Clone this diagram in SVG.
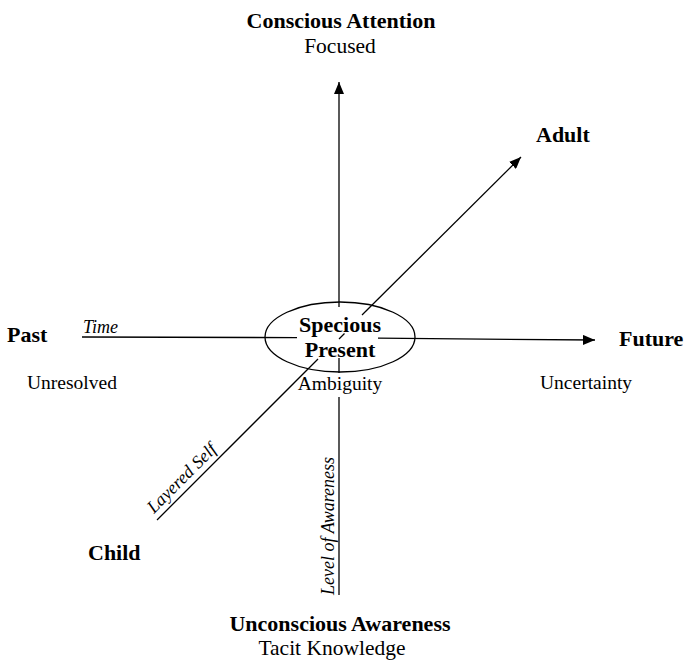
<svg xmlns="http://www.w3.org/2000/svg" width="687" height="660" viewBox="0 0 687 660">
<defs>
<marker id="arr" viewBox="0 0 12 10" refX="12" refY="5" markerWidth="12" markerHeight="10" markerUnits="userSpaceOnUse" orient="auto">
<path d="M0,0 L12,5 L0,10 Z" fill="#000"/>
</marker>
<style>
text{font-family:"Liberation Serif","Times New Roman",serif;fill:#000}
.b{font-weight:bold;font-size:22px}
.r{font-size:21.5px}
.s{font-size:19.5px}
.i{font-style:italic;font-size:18px}
.ln{stroke:#000;stroke-width:1.3;fill:none}
</style>
</defs>
<rect width="687" height="660" fill="#fff"/>
<g id="connectors">
<line class="ln" x1="339" y1="307" x2="339" y2="82" marker-end="url(#arr)"/>
<line class="ln" x1="339" y1="358" x2="339" y2="373"/>
<line class="ln" x1="339" y1="397" x2="339" y2="595"/>
<line class="ln" x1="82" y1="337" x2="297" y2="337.6"/>
<line class="ln" x1="378" y1="338.2" x2="595" y2="340" marker-end="url(#arr)"/>
<line class="ln" x1="362" y1="315" x2="521" y2="157" marker-end="url(#arr)"/>
<line class="ln" x1="157" y1="520" x2="318" y2="359"/>
<line class="ln" x1="344.5" y1="333.5" x2="339" y2="339"/>
</g>
<g id="center">
<ellipse class="ln" cx="340" cy="337" rx="75" ry="35"/>
<text class="b" x="340" y="332" text-anchor="middle">Specious</text>
<text class="b" x="340" y="357" text-anchor="middle">Present</text>
</g>
<g id="top">
<text class="b" x="341" y="28" text-anchor="middle">Conscious Attention</text>
<text class="r" x="340" y="53" text-anchor="middle">Focused</text>
</g>
<g id="adult"><text class="b" x="536" y="142">Adult</text></g>
<g id="past">
<text class="b" x="7" y="342">Past</text>
<text class="s" x="27" y="389">Unresolved</text>
</g>
<g id="future">
<text class="b" x="619" y="346">Future</text>
<text class="s" x="540" y="389">Uncertainty</text>
</g>
<g id="ambiguity"><text class="s" x="340" y="390" text-anchor="middle">Ambiguity</text></g>
<g id="child"><text class="b" x="88" y="560">Child</text></g>
<g id="bottom">
<text class="b" x="340" y="631" text-anchor="middle">Unconscious Awareness</text>
<text class="r" x="332" y="655" text-anchor="middle">Tacit Knowledge</text>
</g>
<g id="axis-labels">
<text class="i" x="83" y="333">Time</text>
<text class="i" transform="translate(154,514) rotate(-45)">Layered Self</text>
<text class="i" transform="translate(334,595) rotate(-90)">Level of Awareness</text>
</g>
</svg>
